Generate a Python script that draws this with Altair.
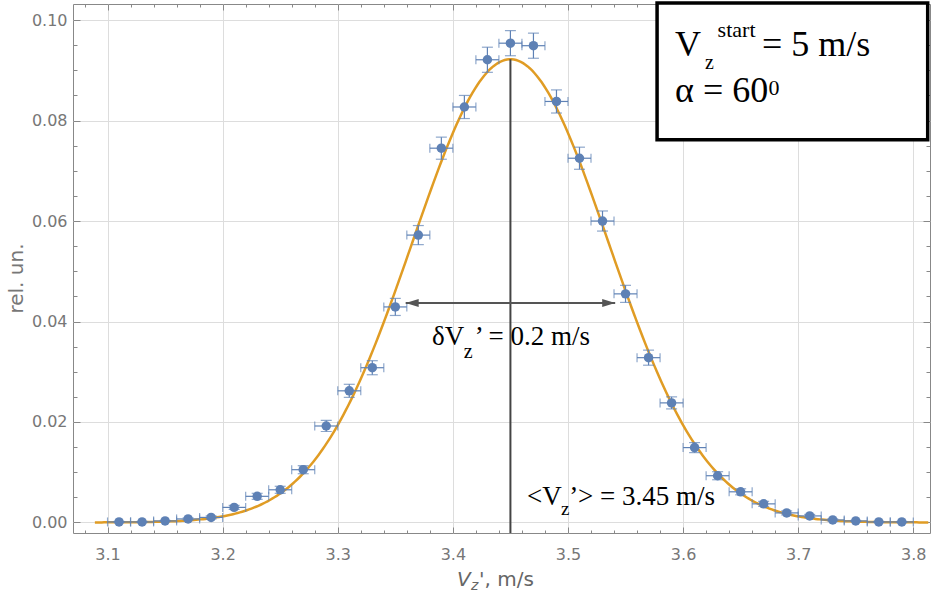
import math
import altair as alt
import pandas as pd

# Measured distribution of V_z' (bin centres, relative units, statistical errors)
vz = [3.11, 3.13, 3.15, 3.17, 3.19, 3.21, 3.23, 3.25, 3.27, 3.29,
      3.31, 3.33, 3.35, 3.37, 3.39, 3.41, 3.43, 3.45, 3.47, 3.49,
      3.51, 3.53, 3.55, 3.57, 3.59, 3.61, 3.63, 3.65, 3.67, 3.69,
      3.71, 3.73, 3.75, 3.77, 3.79]
rel = [0.0001, 0.0001, 0.0003, 0.0007, 0.0010, 0.0030, 0.0052, 0.0065, 0.0105, 0.0192,
       0.0262, 0.0308, 0.0429, 0.0572, 0.0745, 0.0827, 0.0921, 0.0954, 0.0949, 0.0838,
       0.0725, 0.0600, 0.0455, 0.0328, 0.0238, 0.0149, 0.0093, 0.0061, 0.0037, 0.0019,
       0.0013, 0.0005, 0.0003, 0.0001, 0.0001]
err = [0.0001, 0.0001, 0.0001, 0.0002, 0.0003, 0.0004, 0.0006, 0.0007, 0.0008, 0.0011,
       0.0013, 0.0014, 0.0017, 0.0019, 0.0022, 0.0023, 0.0025, 0.0025, 0.0025, 0.0023,
       0.0022, 0.0020, 0.0017, 0.0015, 0.0012, 0.0010, 0.0008, 0.0006, 0.0005, 0.0004,
       0.0003, 0.0002, 0.0001, 0.0001, 0.0001]
half_bin = 0.01

# Gaussian fit parameters
mean_vz = 3.45
fwhm = 0.2
peak = 0.0922
sigma = fwhm / (2 * math.sqrt(2 * math.log(2)))

# Axis ticks
x_major = [3.1, 3.2, 3.3, 3.4, 3.5, 3.6, 3.7, 3.8]
x_minor = [round(3.08 + 0.02 * i, 2) for i in range(37) if i % 5 != 1]
y_major = [0.0, 0.02, 0.04, 0.06, 0.08, 0.10]
y_minor = [round(0.005 * i, 3) for i in range(21) if i % 4 != 0]

x_lo, x_hi = 3.07, 3.8145
y_lo, y_hi = -0.0021, 0.1032

BLUE = "#5E81B5"
ORANGE = "#E09C24"
FRAME = "#888888"
LABEL = "#777777"
SERIF = "Liberation Serif"
SANS = "DejaVu Sans"

xs = alt.Scale(domain=[x_lo, x_hi], nice=False, zero=False)
ys = alt.Scale(domain=[y_lo, y_hi], nice=False, zero=False)

df = pd.DataFrame({"vz": vz, "rel": rel, "err": err})
base = alt.Chart(df).transform_calculate(
    xlo=f"datum.vz - {half_bin}",
    xhi=f"datum.vz + {half_bin}",
    ylo="datum.rel - datum.err",
    yhi="datum.rel + datum.err",
)


def tick_axis(orient, values, size):
    # inward-pointing frame ticks: axis shifted inside by its own tick length
    return alt.Axis(orient=orient, values=values, labels=False, domain=False,
                    grid=False, ticks=True, tickSize=size, tickColor=FRAME,
                    tickWidth=1, offset=-size, title=None)


x_labels = alt.Axis(orient="bottom", values=x_major, format=".1f", labelFont=SANS,
                    labelFontSize=16, labelColor=LABEL, labelPadding=13,
                    ticks=False, domain=False, grid=True, gridColor="#dddddd",
                    gridWidth=1, title=None)
y_labels = alt.Axis(orient="left", values=y_major, format=".2f", labelFont=SANS,
                    labelFontSize=16, labelColor=LABEL, labelPadding=6,
                    ticks=False, domain=False, grid=True, gridColor="#dddddd",
                    gridWidth=1, title="rel. un.", titleFont=SANS, titleFontSize=20,
                    titleFontWeight="normal", titleColor=LABEL, titleAngle=270,
                    titleAlign="center", titleBaseline="middle",
                    titleX=-57, titleY=274)

# fitted Gaussian
curve = alt.Chart(alt.sequence(3.089, 3.8145, 0.002, as_="v")).transform_calculate(
    f=f"{peak} * exp(-pow(datum.v - {mean_vz}, 2) / (2 * {sigma} * {sigma}))"
).mark_line(color=ORANGE, strokeWidth=2.5, clip=True).encode(
    x=alt.X("v:Q", scale=xs, axis=None),
    y=alt.Y("f:Q", scale=ys, axis=None),
)

hbar = base.mark_rule(color=BLUE, strokeWidth=1.2).encode(
    x=alt.X("xlo:Q", scale=xs, axis=tick_axis("bottom", x_major, 6)),
    x2="xhi:Q",
    y=alt.Y("rel:Q", scale=ys, axis=tick_axis("left", y_major, 7)),
)
vbar = base.mark_rule(color=BLUE, strokeWidth=1.2).encode(
    x=alt.X("vz:Q", scale=xs, axis=tick_axis("bottom", x_minor, 3)),
    y=alt.Y("ylo:Q", scale=ys, axis=tick_axis("left", y_minor, 4)),
    y2="yhi:Q",
)
cap_l = base.mark_tick(color=BLUE, orient="vertical", size=9, thickness=1.2).encode(
    x=alt.X("xlo:Q", scale=xs, axis=tick_axis("top", x_major, 6)),
    y=alt.Y("rel:Q", scale=ys, axis=tick_axis("right", y_major, 7)),
)
cap_r = base.mark_tick(color=BLUE, orient="vertical", size=9, thickness=1.2).encode(
    x=alt.X("xhi:Q", scale=xs, axis=tick_axis("top", x_minor, 3)),
    y=alt.Y("rel:Q", scale=ys, axis=tick_axis("right", y_minor, 4)),
)
cap_b = base.mark_tick(color=BLUE, orient="horizontal", size=11, thickness=1.2).encode(
    x=alt.X("vz:Q", scale=xs, axis=None),
    y=alt.Y("ylo:Q", scale=ys, axis=None),
)
cap_t = base.mark_tick(color=BLUE, orient="horizontal", size=11, thickness=1.2).encode(
    x=alt.X("vz:Q", scale=xs, axis=None),
    y=alt.Y("yhi:Q", scale=ys, axis=None),
)
points = base.mark_circle(color=BLUE, size=90, opacity=1).encode(
    x=alt.X("vz:Q", scale=xs, axis=x_labels),
    y=alt.Y("rel:Q", scale=ys, axis=y_labels),
)

# mean marker
mean_line = alt.Chart(pd.DataFrame({"x": [mean_vz], "y0": [y_lo], "y1": [peak]})).mark_rule(
    color="#444444", strokeWidth=2
).encode(
    x=alt.X("x:Q", scale=xs, axis=None),
    y=alt.Y("y0:Q", scale=ys, axis=None),
    y2="y1:Q",
)

# width arrow
arrow_y = 0.0437
arrow_l = mean_vz - fwhm / 2 + 0.009
arrow_r = mean_vz + fwhm / 2 - 0.009
shaft = alt.Chart(pd.DataFrame({"a": [arrow_l], "b": [arrow_r], "y": [arrow_y]})).mark_rule(
    color="#555555", strokeWidth=2
).encode(
    x=alt.X("a:Q", scale=xs, axis=None),
    x2="b:Q",
    y=alt.Y("y:Q", scale=ys, axis=None),
)


def head(x, path):
    return alt.Chart(pd.DataFrame({"x": [x], "y": [arrow_y]})).mark_point(
        shape=path, size=100, filled=True, color="#555555", opacity=1
    ).encode(
        x=alt.X("x:Q", scale=xs, axis=None),
        y=alt.Y("y:Q", scale=ys, axis=None),
    )


head_l = head(arrow_l, "M0,0L2.6,-0.8L2.6,0.8Z")
head_r = head(arrow_r, "M0,0L-2.6,-0.8L-2.6,0.8Z")

# parameter box
box = alt.Chart(pd.DataFrame({"a": [3.5774], "b": [3.8125], "c": [0.0762], "d": [0.1034]})).mark_rect(
    fill="white", stroke="black", strokeWidth=3.5
).encode(
    x=alt.X("a:Q", scale=xs, axis=None),
    x2="b:Q",
    y=alt.Y("c:Q", scale=ys, axis=None),
    y2="d:Q",
)


def note(text, x, y, size, font=SERIF, color="black", style="normal"):
    return alt.Chart(pd.DataFrame({"x": [x], "y": [y]})).mark_text(
        text=text, font=font, fontSize=size, fontStyle=style, color=color,
        align="left", baseline="alphabetic"
    ).encode(
        x=alt.X("x:Q", scale=xs, axis=None),
        y=alt.Y("y:Q", scale=ys, axis=None),
    )


notes = [
    note("V", 3.5930, 0.09285, 36),
    note("z", 3.6190, 0.09025, 20),
    note("start", 3.6300, 0.09663, 22),
    note("= 5 m/s", 3.6686, 0.09285, 36),
    note("α = 60", 3.5930, 0.08369, 36),
    note("0", 3.6742, 0.08509, 22),
    note("δV", 3.3819, 0.03532, 27),
    note("z", 3.4095, 0.03280, 20),
    note("’ = 0.2 m/s", 3.4190, 0.03532, 27),
    note("<V", 3.4644, 0.00347, 27),
    note("z", 3.4940, 0.00140, 19),
    note("’> = 3.45 m/s", 3.5010, 0.00347, 27),
]


def xtitle(text, px, py, size, style):
    return alt.Chart(pd.DataFrame({"k": [0]})).mark_text(
        text=text, font=SANS, fontSize=size, fontStyle=style, color="#666666",
        align="left", baseline="alphabetic"
    ).encode(x=alt.value(px), y=alt.value(py))


x_title = [
    xtitle("V", 384, 582, 20, "italic"),
    xtitle("z", 398, 586, 14, "italic"),
    xtitle("', m/s", 406, 582, 20, "normal"),
]

chart = alt.layer(
    curve, hbar, vbar, cap_l, cap_r, cap_b, cap_t, points,
    mean_line, shaft, head_l, head_r, box, *notes, *x_title,
).resolve_axis(
    x="independent", y="independent"
).properties(
    width=857, height=529,
    autosize=alt.AutoSizeParams(type="none"),
    padding={"left": 73, "top": 4, "right": 3, "bottom": 62},
).configure_view(
    stroke=FRAME, strokeWidth=1
)

chart.save("out.html", embed_options={"renderer": "svg", "actions": False})
